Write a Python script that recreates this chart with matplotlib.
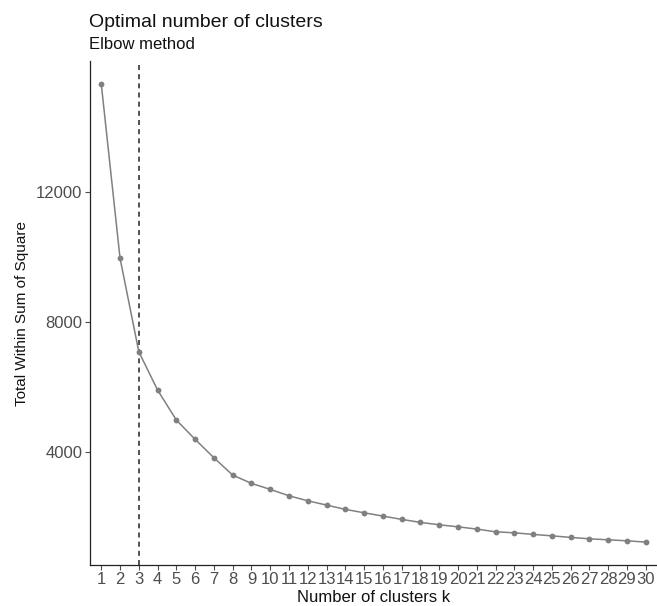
import matplotlib
matplotlib.use("Agg")
import matplotlib.pyplot as plt

# elbow curve
k_values = list(range(1, 31))
wss = [15314, 9951, 7077, 5898, 4975, 4382, 3815, 3283, 3028, 2843,
       2646, 2492, 2360, 2228, 2123, 2022, 1920, 1828, 1754, 1692,
       1622, 1538, 1508, 1458, 1415, 1366, 1323, 1292, 1262, 1222]
y_ticks = [4000, 8000, 12000]
best_k = 3

plt.rcParams['font.family'] = ['Liberation Sans', 'DejaVu Sans']

fig = plt.figure(figsize=(6.57, 6.06), dpi=100)
ax = fig.add_axes([90 / 657, 1 - 565 / 606, 1 - 90 / 657, (565 - 61) / 606])

ax.plot(k_values, wss, color="#808080", lw=1.1, marker="o", markersize=4.2,
        markeredgewidth=0, zorder=3)
ax.axvline(best_k, color="#333333", lw=1.2, ls=(0, (3, 2.5)), zorder=2)

span = max(wss) - min(wss)
ax.set_ylim(min(wss) - 0.05 * span, max(wss) + 0.05 * span)
ax.set_xlim(0.4, 30.6)
ax.set_xticks(k_values)
ax.set_xticklabels([str(k) for k in k_values])
ax.set_yticks(y_ticks)
ax.tick_params(axis="both", labelsize=12, colors="#4d4d4d", length=3.5,
               width=0.8, pad=2)
ax.tick_params(axis="x", pad=1.5)

for side in ["top", "right"]:
    ax.spines[side].set_visible(False)
for side in ["left", "bottom"]:
    ax.spines[side].set_linewidth(0.9)
    ax.spines[side].set_color("#222222")

ax.set_xlabel("Number of clusters k", fontsize=12, labelpad=2.5, color="#111111")
ax.set_ylabel("Total Within Sum of Square", fontsize=11, labelpad=5, color="#111111")

fig.text(89 / 657, 1 - 27 / 606, "Optimal number of clusters", fontsize=14,
         va="baseline", ha="left", color="#111111")
fig.text(89 / 657, 1 - 49 / 606, "Elbow method", fontsize=12,
         va="baseline", ha="left", color="#111111")

fig.savefig("out.png", dpi=100)
